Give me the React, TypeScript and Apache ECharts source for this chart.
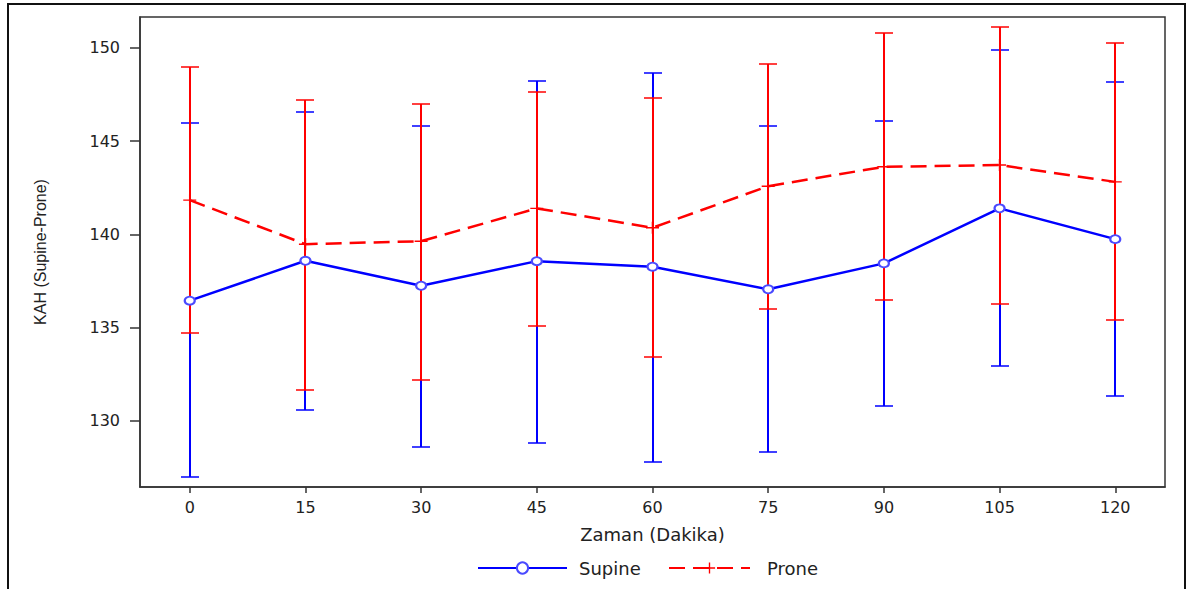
import React, { useEffect, useRef } from "react";
import * as echarts from "echarts";

const times = [0, 15, 30, 45, 60, 75, 90, 105, 120];
const supineMean = [136.45, 138.59, 137.25, 138.57, 138.27, 137.06, 138.45, 141.4, 139.75];
const supineUpper = [146.0, 146.59, 145.81, 148.23, 148.68, 145.81, 146.07, 149.88, 148.18];
const supineLower = [127.02, 130.61, 128.63, 128.84, 127.79, 128.32, 130.81, 132.96, 131.34];
const proneMean = [141.84, 139.48, 139.64, 141.4, 140.36, 142.59, 143.63, 143.72, 142.82];
const proneUpper = [149.0, 147.23, 146.98, 147.64, 147.32, 149.14, 150.8, 151.13, 150.27];
const proneLower = [134.7, 131.66, 132.2, 135.07, 133.45, 136.0, 136.46, 136.27, 135.41];
const xTicks = [0, 15, 30, 45, 60, 75, 90, 105, 120];
const yTicks = [130, 135, 140, 145, 150];

const FONT = "DejaVu Sans";
const BLUE = "#0000ff";
const RED = "#ff0000";

function errorRender(color: string) {
  return (_params: any, api: any) => {
    const x = api.value(0);
    const lo = api.value(1);
    const hi = api.value(2);
    const pLo = api.coord([x, lo]);
    const pHi = api.coord([x, hi]);
    const cx = Math.round(pLo[0]);
    const yLo = Math.round(pLo[1]);
    const yHi = Math.round(pHi[1]);
    const hw = 9;
    const vStyle = { stroke: color, lineWidth: 2 };
    const hStyle = { stroke: color, lineWidth: 1.5 };
    return {
      type: "group",
      children: [
        { type: "line", shape: { x1: cx, y1: yLo, x2: cx, y2: yHi }, style: vStyle },
        { type: "line", shape: { x1: cx - hw, y1: yHi, x2: cx + hw, y2: yHi }, style: hStyle },
        { type: "line", shape: { x1: cx - hw, y1: yLo, x2: cx + hw, y2: yLo }, style: hStyle },
      ],
    };
  };
}

export default function App() {
  const ref = useRef<HTMLDivElement>(null);
  useEffect(() => {
    const chart = echarts.init(ref.current!, null, { renderer: "svg" });
    const supineErr = times.map((t, i) => [t, supineLower[i], supineUpper[i]]);
    const proneErr = times.map((t, i) => [t, proneLower[i], proneUpper[i]]);
    const supineLine = times.map((t, i) => [t, supineMean[i]]);
    const proneLine = times.map((t, i) => [t, proneMean[i]]);
    const plusPath = "path://M0,4.4H10V5.6H0Z M4.4,0H5.6V10H4.4Z";
    chart.setOption({
      animation: false,
      backgroundColor: "#ffffff",
      graphic: [
        {
          type: "rect",
          shape: { x: 8, y: 4, width: 1177, height: 700 },
          style: { fill: "none", stroke: "#111", lineWidth: 2 },
          silent: true,
        },
      ],
      grid: {
        left: 140,
        right: 31,
        top: 17,
        bottom: 102,
        show: true,
        borderColor: "#333",
        borderWidth: 1.5,
      },
      xAxis: {
        type: "value",
        min: -6.45,
        max: 126.45,
        name: "Zaman (Dakika)",
        nameLocation: "middle",
        nameGap: 38,
        nameTextStyle: { fontFamily: FONT, fontSize: 18, color: "#222" },
        axisLine: { show: true, onZero: false, lineStyle: { color: "#333", width: 1.5 } },
        axisTick: { show: true, length: 6, customValues: xTicks, lineStyle: { color: "#333", width: 1.5 } },
        axisLabel: { customValues: xTicks, margin: 12, fontFamily: FONT, fontSize: 16, color: "#222" },
        splitLine: { show: false },
      },
      yAxis: {
        type: "value",
        min: 126.46,
        max: 151.66,
        name: "KAH (Supine-Prone)",
        nameLocation: "middle",
        nameGap: 92,
        nameTextStyle: { fontFamily: "Liberation Sans", fontSize: 16, color: "#222" },
        axisLine: { show: true, onZero: false, lineStyle: { color: "#333", width: 1.5 } },
        axisTick: { show: true, length: 10, customValues: yTicks, lineStyle: { color: "#333", width: 1.5 } },
        axisLabel: { customValues: yTicks, margin: 20, fontFamily: FONT, fontSize: 16, color: "#222" },
        splitLine: { show: false },
      },
      legend: [
        {
          data: ["Supine"],
          left: 472,
          top: 554,
          itemWidth: 89,
          itemHeight: 14,
          textStyle: { fontFamily: FONT, fontSize: 18, color: "#222", padding: [0, 0, 0, 7] },
        },
        {
          data: ["Prone"],
          left: 663,
          top: 554,
          itemWidth: 81,
          itemHeight: 14,
          textStyle: { fontFamily: FONT, fontSize: 18, color: "#222", padding: [0, 0, 0, 12] },
        },
      ],
      series: [
        {
          type: "custom",
          name: "SupineErr",
          renderItem: errorRender(BLUE),
          data: supineErr,
          encode: { x: 0, y: [1, 2] },
          z: 1,
          silent: true,
        },
        {
          type: "custom",
          name: "ProneErr",
          renderItem: errorRender(RED),
          data: proneErr,
          encode: { x: 0, y: [1, 2] },
          z: 2,
          silent: true,
        },
        {
          type: "line",
          name: "Supine",
          data: supineLine,
          symbol: "emptyCircle",
          symbolSize: [10, 8],
          itemStyle: { color: "#4a4aff", borderWidth: 1.5 },
          lineStyle: { color: BLUE, width: 2.5 },
          z: 3,
        },
        {
          type: "line",
          name: "Prone",
          data: proneLine,
          symbol: plusPath,
          symbolSize: [13, 12],
          itemStyle: { color: RED },
          lineStyle: { color: RED, width: 2.5, type: [16, 8] },
          z: 4,
        },
      ],
    });
    return () => chart.dispose();
  }, []);
  return (
    <div
      ref={ref}
      style={{ position: "absolute", left: 0, top: 0, width: 1196, height: 589 }}
    />
  );
}
